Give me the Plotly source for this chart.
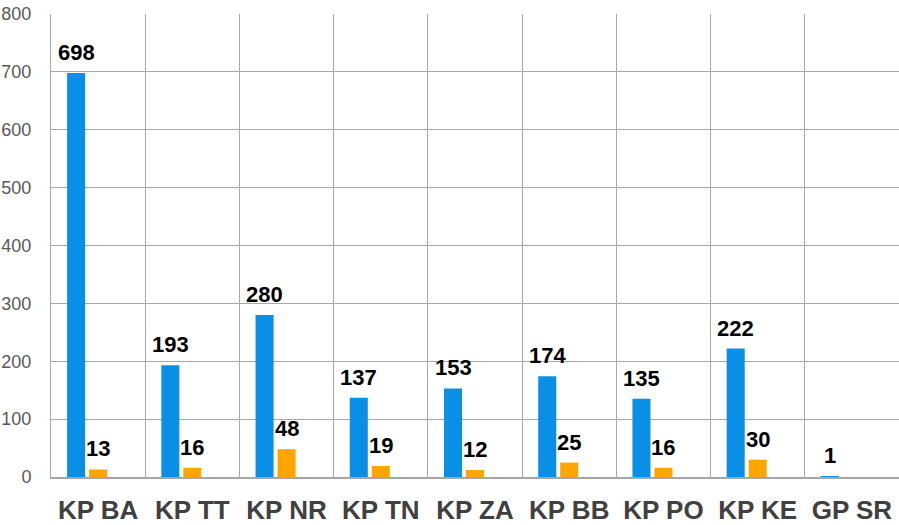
import plotly.graph_objects as go

categories = ["KP BA", "KP TT", "KP NR", "KP TN", "KP ZA", "KP BB", "KP PO", "KP KE", "GP SR"]
series_blue = [698, 193, 280, 137, 153, 174, 135, 222, 1]
series_orange = [13, 16, 48, 19, 12, 25, 16, 30, None]
series_third = [None] * 9
y_ticks = [0, 100, 200, 300, 400, 500, 600, 700, 800]

W, H = 899, 525
ML, MR, MT, MB = 51, 0, 14, 45
BARGAP = 0.30
BARGROUPGAP = 0.18
FONT = "Arial, Liberation Sans, sans-serif"

fig = go.Figure()
colors = ["#0A8FE6", "#FFA500", "#9E9E9E"]
all_series = [series_blue, series_orange, series_third]
names = ["Blue", "Orange", "Third"]
for s, c, n in zip(all_series, colors, names):
    fig.add_trace(go.Bar(x=categories, y=s, name=n, marker=dict(color=c, line=dict(width=0)),
                         hoverinfo="x+y"))

plot_w = W - ML - MR
cat_w = plot_w / len(categories)
slot = cat_w * (1 - BARGAP) / len(all_series)

annotations = []
for i, s in enumerate(all_series):
    for cat, v in zip(categories, s):
        if v is None:
            continue
        annotations.append(dict(
            x=cat, y=v, xref="x", yref="y", text=str(v), showarrow=False,
            xanchor="center", yanchor="bottom", xshift=(i - 1) * slot, yshift=6,
            font=dict(family=FONT, size=22, color="#000000", weight="bold"),
        ))

fig.update_layout(
    width=W, height=H,
    margin=dict(l=ML, r=MR, t=MT, b=MB, pad=0),
    paper_bgcolor="white", plot_bgcolor="white",
    barmode="group", bargap=BARGAP, bargroupgap=BARGROUPGAP,
    showlegend=False,
    annotations=annotations,
    xaxis=dict(
        type="category", tickson="boundaries", showgrid=True, gridcolor="#a8a8a8", gridwidth=1,
        showline=True, linecolor="#a6a6a6", linewidth=2, ticks="",
        tickfont=dict(family=FONT, size=26, color="#404040", weight="bold"),
        ticklabelstandoff=9, fixedrange=True,
    ),
    yaxis=dict(
        range=[0, 800], tickvals=y_ticks, showgrid=True, gridcolor="#a8a8a8", gridwidth=1,
        zeroline=False, showline=True, linecolor="#a8a8a8", linewidth=1, ticks="",
        tickfont=dict(family=FONT, size=18, color="#595959"),
        ticklabelstandoff=15, fixedrange=True,
    ),
)

fig.write_html("out.html", config={"displayModeBar": False},
               post_script="document.body.style.margin='0';document.body.style.overflow='hidden';")
